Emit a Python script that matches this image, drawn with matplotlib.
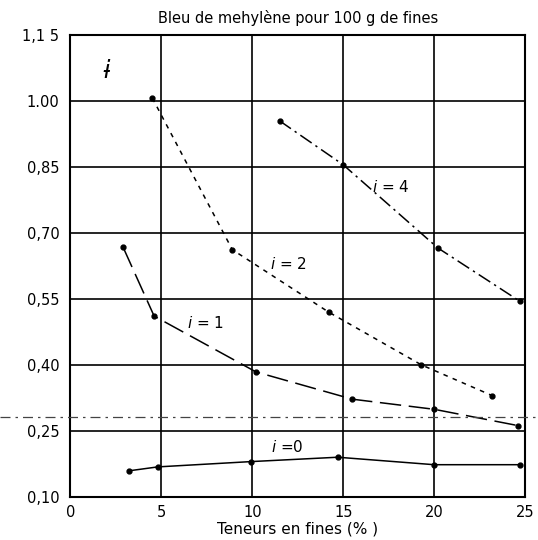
import matplotlib.pyplot as plt
from matplotlib.lines import Line2D

# Teneurs en fines (%) et valeurs de bleu pour chaque courbe i
x_i0 = [3.2, 4.8, 9.9, 14.7, 20.0, 24.7]
y_i0 = [0.159, 0.168, 0.180, 0.190, 0.173, 0.173]

x_i1 = [2.9, 4.6, 10.2, 15.5, 20.0, 24.6]
y_i1 = [0.667, 0.511, 0.384, 0.322, 0.299, 0.262]

x_i2 = [4.5, 8.9, 14.2, 19.3, 23.2]
y_i2 = [1.007, 0.662, 0.520, 0.400, 0.330]

x_i4 = [11.5, 15.0, 20.2, 24.7]
y_i4 = [0.955, 0.855, 0.666, 0.545]

x_ticks = [0, 5, 10, 15, 20, 25]
y_ticks = [0.10, 0.25, 0.40, 0.55, 0.70, 0.85, 1.00, 1.15]
y_ticklabels = ['0,10', '0,25', '0,40', '0,55', '0,70', '0,85', '1.00', '1,1 5']

fig = plt.figure(figsize=(5.38, 5.40), dpi=100)
ax = fig.add_axes([0.131, 0.080, 0.845, 0.855])

ax.plot(x_i0, y_i0, color='black', lw=1.1, linestyle='-',
        marker='o', markersize=3.5)
ax.plot(x_i1, y_i1, color='black', lw=1.1, linestyle=(0, (14, 5)),
        marker='o', markersize=3.5)
ax.plot(x_i2, y_i2, color='black', lw=1.1, linestyle=(0, (3, 3.5)),
        marker='o', markersize=3.5)
ax.plot(x_i4, y_i4, color='black', lw=1.1, linestyle=(0, (9, 3, 1.5, 3)),
        marker='o', markersize=3.5)

# étiquettes des courbes
lab = dict(fontsize=11, color='black', ha='center', va='center')
ax.text(11.9, 0.214, '$i$ =0', **lab)
ax.text(7.4, 0.495, '$i$ = 1', **lab)
ax.text(12.0, 0.630, '$i$ = 2', **lab)
ax.text(17.6, 0.805, '$i$ = 4', **lab)
ax.text(2.0, 1.068, 'ɨ', fontsize=17, style='italic', ha='center', va='center')

ax.set_xlim(0, 25)
ax.set_ylim(0.10, 1.15)
ax.set_xticks(x_ticks)
ax.set_yticks(y_ticks)
ax.set_yticklabels(y_ticklabels)
ax.tick_params(length=0, labelsize=10.5)
ax.tick_params(axis='y', pad=8)
ax.tick_params(axis='x', pad=6)
ax.grid(True, color='black', lw=1.2)
for s in ax.spines.values():
    s.set_linewidth(1.5)

ax.set_title('Bleu de mehylène pour 100 g de fines', fontsize=10.5, pad=9)
ax.set_xlabel('Teneurs en fines (% )', fontsize=11, labelpad=1)

# trait pointillé horizontal traversant la feuille
fig.add_artist(Line2D([0, 1], [0.228, 0.228], transform=fig.transFigure,
                      color='#444444', lw=0.9, linestyle=(0, (8, 4, 2, 4))))

fig.savefig('out.png', dpi=100)
